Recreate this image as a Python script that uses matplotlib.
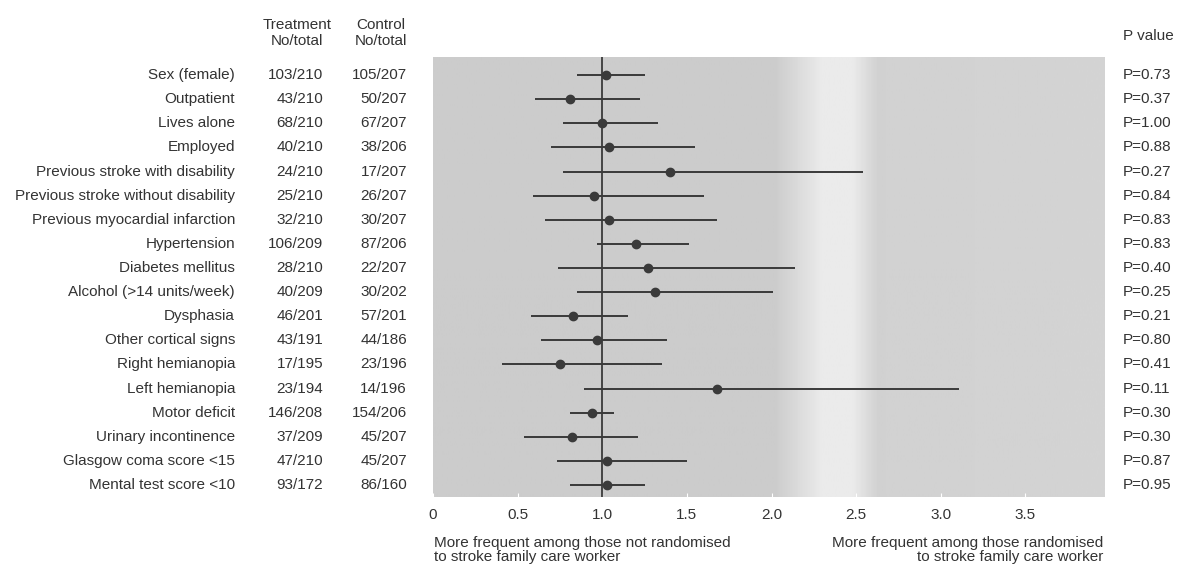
import numpy as np
import matplotlib.pyplot as plt

labels = ['Sex (female)', 'Outpatient', 'Lives alone', 'Employed',
          'Previous stroke with disability', 'Previous stroke without disability',
          'Previous myocardial infarction', 'Hypertension', 'Diabetes mellitus',
          'Alcohol (>14 units/week)', 'Dysphasia', 'Other cortical signs',
          'Right hemianopia', 'Left hemianopia', 'Motor deficit',
          'Urinary incontinence', 'Glasgow coma score <15', 'Mental test score <10']
treatment = ['103/210', '43/210', '68/210', '40/210', '24/210', '25/210', '32/210',
             '106/209', '28/210', '40/209', '46/201', '43/191', '17/195', '23/194',
             '146/208', '37/209', '47/210', '93/172']
control = ['105/207', '50/207', '67/207', '38/206', '17/207', '26/207', '30/207',
           '87/206', '22/207', '30/202', '57/201', '44/186', '23/196', '14/196',
           '154/206', '45/207', '45/207', '86/160']
estimate = [1.02, 0.81, 1.00, 1.04, 1.40, 0.95, 1.04, 1.20, 1.27, 1.31,
            0.83, 0.97, 0.75, 1.68, 0.94, 0.82, 1.03, 1.03]
lower = [0.85, 0.60, 0.77, 0.70, 0.77, 0.59, 0.66, 0.97, 0.74, 0.85,
         0.58, 0.64, 0.41, 0.89, 0.81, 0.54, 0.73, 0.81]
upper = [1.25, 1.22, 1.33, 1.55, 2.54, 1.60, 1.68, 1.51, 2.14, 2.01,
         1.15, 1.38, 1.35, 3.11, 1.07, 1.21, 1.50, 1.25]
pvalues = ['P=0.73', 'P=0.37', 'P=1.00', 'P=0.88', 'P=0.27', 'P=0.84', 'P=0.83',
           'P=0.83', 'P=0.40', 'P=0.25', 'P=0.21', 'P=0.80', 'P=0.41', 'P=0.11',
           'P=0.30', 'P=0.30', 'P=0.87', 'P=0.95']
xticks = [0, 0.5, 1.0, 1.5, 2.0, 2.5, 3.0, 3.5]

plt.rcParams['font.family'] = ['Liberation Sans', 'DejaVu Sans']
txt = '#333333'
ink = '#3a3a3a'
fs = 11

fig = plt.figure(figsize=(11.84, 5.67), dpi=100)
ax = fig.add_axes([433 / 1184, 1 - 497 / 567, 672 / 1184, 440 / 567])

n = len(labels)
xmax = 3.97
ymin, ymax = n - 0.5, -0.75

# grey backdrop with a soft lighter band around 2.4
gx = np.linspace(0, xmax, 400)
shade = np.interp(gx, [0, 2.02, 2.3, 2.48, 2.63, xmax],
                  [0.80, 0.80, 0.92, 0.92, 0.82, 0.83])
ax.imshow(shade[None, :], cmap='gray', vmin=0, vmax=1, aspect='auto',
          extent=[0, xmax, ymin, ymax], zorder=0)

y = np.arange(n)
ax.axvline(1.0, color=ink, lw=1.3, zorder=2)
ax.hlines(y, lower, upper, color=ink, lw=1.4, zorder=3)
ax.plot(estimate, y, 'o', color=ink, ms=6, zorder=4)

ax.set_xlim(0, xmax)
ax.set_ylim(ymin, ymax)
ax.set_yticks([])
ax.set_xticks(xticks)
ax.set_xticklabels(['0' if t == 0 else f'{t:.1f}' for t in xticks],
                   fontsize=fs, color=txt)
ax.tick_params(axis='x', direction='in', length=3, color='white', pad=8)
for s in ax.spines.values():
    s.set_visible(False)

tr = ax.get_yaxis_transform()
fx = lambda px: px / 1184
ax_x = lambda px: (px - 433) / 672
for i in range(n):
    ax.text(ax_x(235), i, labels[i], transform=tr,
            ha='right', va='center', fontsize=fs, color=txt)
    ax.text(ax_x(323), i, treatment[i], transform=tr,
            ha='right', va='center', fontsize=fs, color=txt)
    ax.text(ax_x(407), i, control[i], transform=tr,
            ha='right', va='center', fontsize=fs, color=txt)
    ax.text(ax_x(1123), i, pvalues[i], transform=tr,
            ha='left', va='center', fontsize=fs, color=txt)

fig.text(fx(297), 1 - 33 / 567, 'Treatment\nNo/total', ha='center', va='center',
         fontsize=fs, color=txt, linespacing=1.25)
fig.text(fx(381), 1 - 33 / 567, 'Control\nNo/total', ha='center', va='center',
         fontsize=fs, color=txt, linespacing=1.25)
fig.text(fx(1123), 1 - 36 / 567, 'P value', ha='left', va='center',
         fontsize=fs, color=txt)

fig.text(fx(434), 1 - 550 / 567,
         'More frequent among those not randomised\nto stroke family care worker',
         ha='left', va='center', fontsize=fs, color=txt, linespacing=1.0)
fig.text(fx(1103), 1 - 550 / 567,
         'More frequent among those randomised\nto stroke family care worker',
         ha='right', va='center', fontsize=fs, color=txt, linespacing=1.0,
         multialignment='right')

fig.savefig('out.png', dpi=100)
